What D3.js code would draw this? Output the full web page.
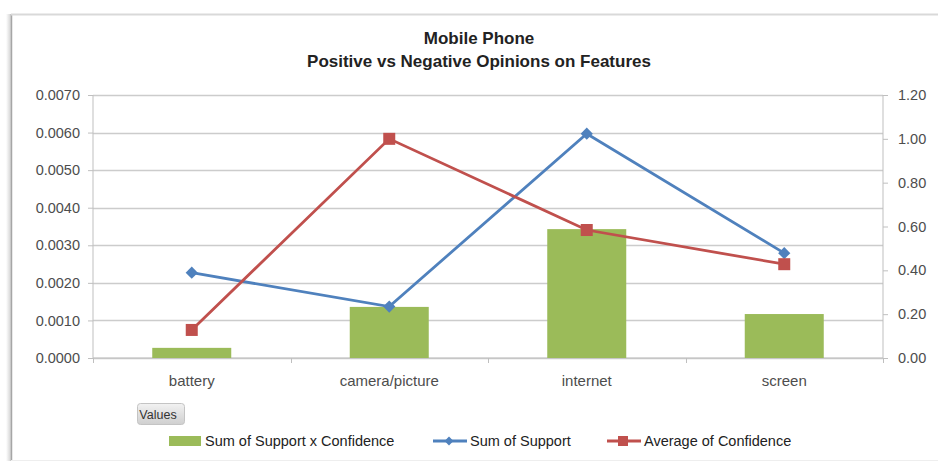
<!DOCTYPE html>
<html>
<head>
<meta charset="utf-8">
<script src="https://cdn.jsdelivr.net/npm/d3@7"></script>
<style>
  html, body { margin: 0; padding: 0; background: #fff; }
  svg { display: block; font-family: "Liberation Sans", Arial, sans-serif; }
</style>
</head>
<body>
<svg id="chart" width="938" height="461"></svg>
<script>
// Feature categories and series
const categories = ["battery", "camera/picture", "internet", "screen"];
const supportXConfidence = [0.00027, 0.00136, 0.00343, 0.00117];
const sumOfSupport = [0.00227, 0.00137, 0.00597, 0.00279];
const avgConfidence = [0.128, 1.0, 0.584, 0.428];
const leftTicks = [0, 0.001, 0.002, 0.003, 0.004, 0.005, 0.006, 0.007];
const rightTicks = [0, 0.2, 0.4, 0.6, 0.8, 1.0, 1.2];
const titleLines = ["Mobile Phone", "Positive vs Negative Opinions on Features"];
const legendItems = ["Sum of Support x Confidence", "Sum of Support", "Average of Confidence"];

const colors = { bar: "#9bbb59", blue: "#4f81bd", red: "#c0504d" };

const svg = d3.select("#chart");

// Chart frame with a soft shadow on its left edge
const defs = svg.append("defs");
const grad = defs.append("linearGradient").attr("id", "shadow").attr("x1", 0).attr("x2", 1);
grad.append("stop").attr("offset", 0).attr("stop-color", "#fff");
grad.append("stop").attr("offset", 1).attr("stop-color", "#c8c8c8");
svg.append("rect").attr("x", 6).attr("y", 14).attr("width", 6).attr("height", 447).attr("fill", "url(#shadow)");
svg.append("line").attr("x1", 11.5).attr("x2", 11.5).attr("y1", 14).attr("y2", 461)
  .attr("stroke", "#a6a6a6").attr("stroke-width", 1.5);
svg.append("line").attr("x1", 11).attr("x2", 938).attr("y1", 14.5).attr("y2", 14.5)
  .attr("stroke", "#d9d9d9").attr("stroke-width", 2);
svg.append("line").attr("x1", 11).attr("x2", 938).attr("y1", 460.5).attr("y2", 460.5)
  .attr("stroke", "#eeeeee").attr("stroke-width", 1);

const plot = { left: 93, right: 883, top: 95, bottom: 358 };

const x = d3.scaleBand().domain(categories)
  .range([plot.left, plot.right]).paddingInner(0.6).paddingOuter(0.3);
const yL = d3.scaleLinear().domain([0, 0.007]).range([plot.bottom, plot.top]);
const yR = d3.scaleLinear().domain([0, 1.2]).range([plot.bottom, plot.top]);

// Horizontal gridlines
svg.append("g").selectAll("line").data(leftTicks).join("line")
  .attr("x1", plot.left).attr("x2", plot.right)
  .attr("y1", d => Math.round(yL(d)) + 0.5).attr("y2", d => Math.round(yL(d)) + 0.5)
  .attr("stroke", "#cccccc").attr("stroke-width", 1.3);

// Left axis
const axisL = svg.append("g").attr("transform", `translate(${plot.left},0)`)
  .call(d3.axisLeft(yL).tickValues(leftTicks).tickFormat(d3.format(".4f")).tickSize(5).tickPadding(8));
// Right axis
const axisR = svg.append("g").attr("transform", `translate(${plot.right},0)`)
  .call(d3.axisRight(yR).tickValues(rightTicks).tickFormat(d3.format(".2f")).tickSize(5).tickPadding(10));
// Category axis
const catTicks = [plot.left, ...categories.slice(1).map(c => x(c) - x.step() * 0.3), plot.right];
const axisB = svg.append("g").attr("transform", `translate(0,${plot.bottom})`)
  .call(d3.axisBottom(x).tickSize(0).tickPadding(17));
axisB.selectAll(".tick-sep").data(catTicks).join("line").attr("class", "tick-sep")
  .attr("x1", d => Math.round(d) + 0.5).attr("x2", d => Math.round(d) + 0.5)
  .attr("y1", 0).attr("y2", 5).attr("stroke", "#bfbfbf");

[axisL, axisR, axisB].forEach(g => {
  g.select(".domain").attr("stroke", "#bfbfbf");
  g.selectAll(".tick line").attr("stroke", "#bfbfbf");
  g.selectAll("text").attr("fill", "#4d4d4d").style("font-size", "14.5px")
    .style("font-family", "'Liberation Sans', Arial, sans-serif");
});
axisB.selectAll("text").style("font-size", "15px");
axisL.select(".domain").attr("d", `M0,${plot.top}V${plot.bottom}`);
axisR.select(".domain").attr("d", `M0,${plot.top}V${plot.bottom}`);
axisB.select(".domain").attr("d", `M${plot.left},0H${plot.right}`);

// Bars: Sum of Support x Confidence (left axis)
svg.append("g").selectAll("rect").data(supportXConfidence).join("rect")
  .attr("x", (d, i) => x(categories[i]))
  .attr("width", x.bandwidth())
  .attr("y", d => yL(d))
  .attr("height", d => plot.bottom - yL(d))
  .attr("fill", colors.bar);

const cx = i => x(categories[i]) + x.bandwidth() / 2;

// Line: Sum of Support (left axis)
svg.append("path").datum(sumOfSupport)
  .attr("d", d3.line().x((d, i) => cx(i)).y(d => yL(d)))
  .attr("fill", "none").attr("stroke", colors.blue).attr("stroke-width", 2.8);
svg.append("g").selectAll("path").data(sumOfSupport).join("path")
  .attr("d", d3.symbol(d3.symbolDiamond2, 95))
  .attr("transform", (d, i) => `translate(${cx(i)},${yL(d)})`)
  .attr("fill", colors.blue);

// Line: Average of Confidence (right axis)
svg.append("path").datum(avgConfidence)
  .attr("d", d3.line().x((d, i) => cx(i)).y(d => yR(d)))
  .attr("fill", "none").attr("stroke", colors.red).attr("stroke-width", 2.8);
svg.append("g").selectAll("rect").data(avgConfidence).join("rect")
  .attr("x", (d, i) => cx(i) - 6).attr("y", d => yR(d) - 6)
  .attr("width", 12).attr("height", 12)
  .attr("fill", colors.red);

// Title
svg.append("g").selectAll("text").data(titleLines).join("text")
  .attr("x", 479).attr("y", (d, i) => 44 + i * 23)
  .attr("text-anchor", "middle")
  .style("font-size", "17px").style("font-weight", "bold").attr("fill", "#222")
  .text(d => d);

// "Values" field button
const btnGrad = defs.append("linearGradient").attr("id", "btn").attr("x1", 0).attr("x2", 0).attr("y1", 0).attr("y2", 1);
btnGrad.append("stop").attr("offset", 0).attr("stop-color", "#f2f2f2");
btnGrad.append("stop").attr("offset", 1).attr("stop-color", "#cfcfcf");
svg.append("rect").attr("x", 137.5).attr("y", 403.5).attr("width", 47).attr("height", 21).attr("rx", 3)
  .attr("fill", "url(#btn)").attr("stroke", "#c4c4c4");
svg.append("text").attr("x", 158).attr("y", 418.5).attr("text-anchor", "middle")
  .style("font-size", "12.5px").attr("fill", "#333").text("Values");

// Legend
const legend = svg.append("g");
const legX = [169, 433, 607];
const legY = 441;
legendItems.forEach((label, i) => {
  const g = legend.append("g").attr("transform", `translate(${legX[i]},${legY})`);
  if (i === 0) {
    g.append("rect").attr("x", 0).attr("y", -5).attr("width", 32).attr("height", 10).attr("fill", colors.bar);
  } else {
    const c = i === 1 ? colors.blue : colors.red;
    g.append("line").attr("x1", 0).attr("x2", 34).attr("y1", 0).attr("y2", 0)
      .attr("stroke", c).attr("stroke-width", 2.8);
    if (i === 1) {
      g.append("path").attr("d", d3.symbol(d3.symbolDiamond2, 50)).attr("transform", "translate(16,0)").attr("fill", c);
    } else {
      g.append("rect").attr("x", 11).attr("y", -5).attr("width", 10).attr("height", 10).attr("fill", c);
    }
  }
  g.append("text").attr("x", i === 0 ? 36 : 37).attr("y", 5)
    .style("font-size", "14.5px").attr("fill", "#222").text(label);
});
</script>
</body>
</html>
